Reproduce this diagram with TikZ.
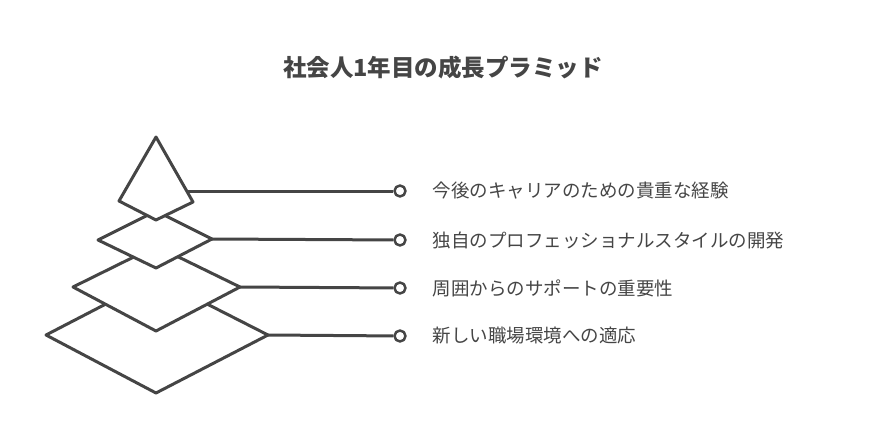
\documentclass[tikz,border=0pt]{standalone}
\usepackage{fontspec}
\newfontfamily\cjk{Noto Sans CJK JP}
\definecolor{ink}{HTML}{454545}

\begin{document}
\begin{tikzpicture}[x=1pt, y=-1pt, line width=3pt, line join=round,
  tier/.style={draw=ink, fill=white},
  pin/.style={circle, draw=ink, fill=white, line width=2.5pt, inner sep=0pt, minimum size=11pt},
  label/.style={anchor=west, text=ink, font=\cjk\fontsize{18.5}{22}\selectfont}]
  \useasboundingbox (0,0) rectangle (888,444);

  \node[text=ink, font=\cjk\bfseries\fontsize{23.5}{28}\selectfont] (title) at (443,68) {社会人1年目の成長プラミッド};

  % tiers, largest first
  \draw[tier] (156,278) -- (268,335) -- (156,393) -- (46,335) -- cycle;
  \draw[tier] (156,246) -- (240,287) -- (156,331) -- (73,287) -- cycle;
  \draw[tier] (156,211) -- (212,239) -- (156,268) -- (98,240) -- cycle;
  \draw[tier] (156,137) -- (193,202) -- (156,220) -- (119,201) -- cycle;

  \coordinate (t1) at (188,191);
  \coordinate (t2) at (212,239);
  \coordinate (t3) at (240,287);
  \coordinate (t4) at (268,335);

  \node[pin] (p1) at (400,191) {};
  \node[pin] (p2) at (400,240) {};
  \node[pin] (p3) at (400,288) {};
  \node[pin] (p4) at (400,336) {};

  \draw[ink] (t1) -- (p1);
  \draw[ink] (t2) -- (p2);
  \draw[ink] (t3) -- (p3);
  \draw[ink] (t4) -- (p4);

  \node[label] (l1) at (428,191) {今後のキャリアのための貴重な経験};
  \node[label] (l2) at (428,240) {独自のプロフェッショナルスタイルの開発};
  \node[label] (l3) at (428,288) {周囲からのサポートの重要性};
  \node[label] (l4) at (428,336) {新しい職場環境への適応};
\end{tikzpicture}
\end{document}
